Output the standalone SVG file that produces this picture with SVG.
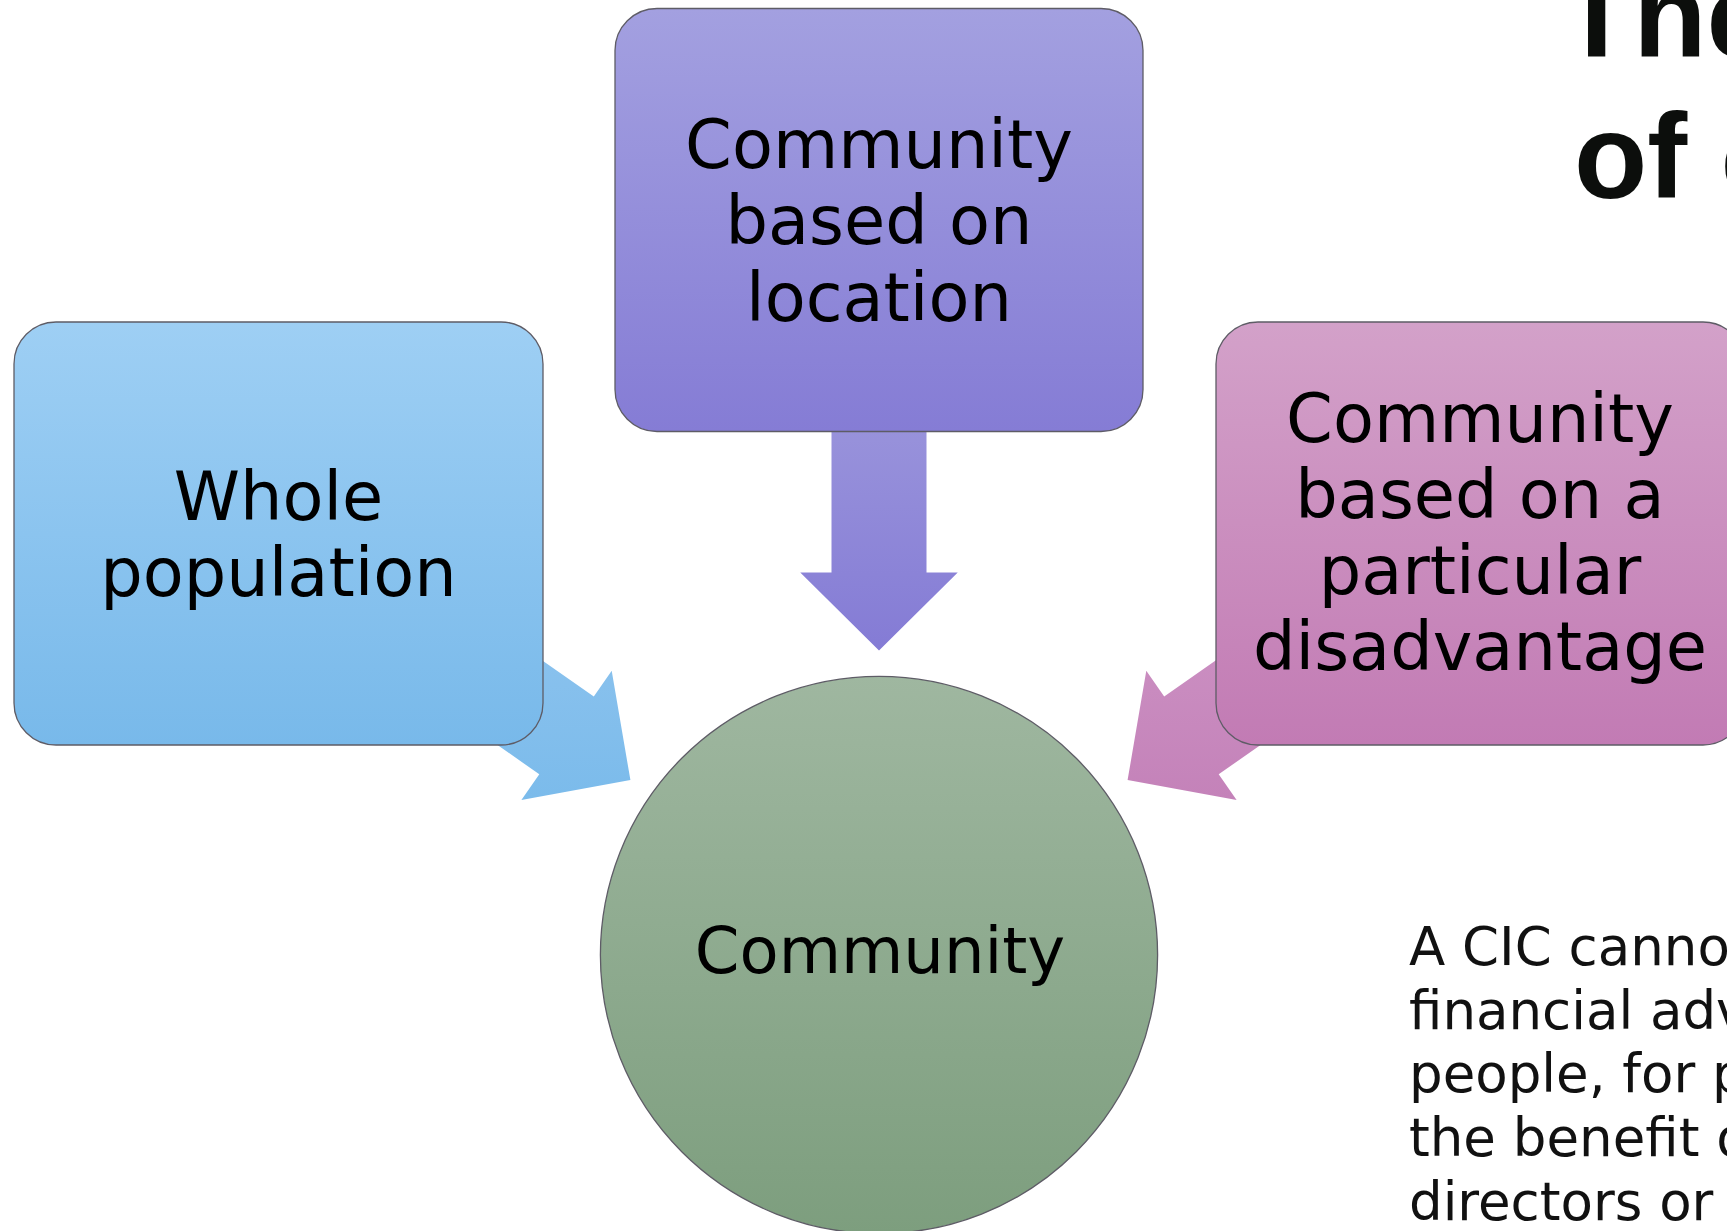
<svg xmlns="http://www.w3.org/2000/svg" width="1727" height="1231" viewBox="0 0 1727 1231">
  <defs>
    <linearGradient id="gBlue" x1="0" y1="0" x2="0" y2="1">
      <stop offset="0" stop-color="#9ECFF4"/>
      <stop offset="1" stop-color="#78B9EA"/>
    </linearGradient>
    <linearGradient id="gPurple" x1="0" y1="0" x2="0" y2="1">
      <stop offset="0" stop-color="#A3A0E0"/>
      <stop offset="1" stop-color="#857CD5"/>
    </linearGradient>
    <linearGradient id="gPink" x1="0" y1="0" x2="0" y2="1">
      <stop offset="0" stop-color="#D3A1C9"/>
      <stop offset="1" stop-color="#C27BB4"/>
    </linearGradient>
    <linearGradient id="gGreen" x1="0" y1="0" x2="0" y2="1">
      <stop offset="0" stop-color="#9FB7A0"/>
      <stop offset="1" stop-color="#7D9E7E"/>
    </linearGradient>
    <linearGradient id="gArrowTop" gradientUnits="userSpaceOnUse" x1="0" y1="430" x2="0" y2="651">
      <stop offset="0" stop-color="#9892DB"/>
      <stop offset="1" stop-color="#847BD5"/>
    </linearGradient>
    <linearGradient id="gArrowLeft" gradientUnits="userSpaceOnUse" x1="0" y1="615" x2="0" y2="800">
      <stop offset="0" stop-color="#8DC3EE"/>
      <stop offset="1" stop-color="#7BBBEB"/>
    </linearGradient>
    <linearGradient id="gArrowRight" gradientUnits="userSpaceOnUse" x1="0" y1="615" x2="0" y2="800">
      <stop offset="0" stop-color="#CC91C3"/>
      <stop offset="1" stop-color="#C482B9"/>
    </linearGradient>
  </defs>
  <style>
    .box { stroke: #5E5C66; stroke-width: 1.3; }
    .label { font-family: "DejaVu Sans", "Liberation Sans", sans-serif; font-size: 67px; fill: #000; text-anchor: middle; }
    .title { font-family: "Liberation Sans", "DejaVu Sans", sans-serif; font-weight: bold; font-size: 120px; fill: #0C0E0C; }
    .body { font-family: "DejaVu Sans", "Liberation Sans", sans-serif; font-size: 53px; fill: #111; }
  </style>

  <rect width="1727" height="1231" fill="#FFFFFF"/>

  <!-- heading, running off the right edge -->
  <g id="title">
    <text class="title" x="1560" y="57">The</text>
    <text class="title" x="1574" y="198">of c</text>
  </g>

  <!-- block arrows pointing into the centre circle -->
  <g id="connectors">
    <polygon fill="url(#gArrowTop)" points="926.5,430.6 926.5,572.6 957.75,572.6 879,650.6 800.25,572.6 831.5,572.6 831.5,430.6"/>
    <polygon fill="url(#gArrowLeft)" points="477.4,615.0 593.8,696.4 611.7,670.8 630.4,780.1 521.4,799.9 539.3,774.3 423.0,692.8"/>
    <polygon fill="url(#gArrowRight)" points="1280.6,615.0 1164.2,696.4 1146.3,670.8 1127.6,780.1 1236.6,799.9 1218.7,774.3 1335.0,692.8"/>
  </g>

  <g id="node-whole-population">
    <rect class="box" x="14" y="322" width="529" height="423" rx="42" ry="42" fill="url(#gBlue)"/>
    <text class="label" x="278.5" y="520">Whole</text>
    <text class="label" x="278.5" y="596">population</text>
  </g>

  <g id="node-location">
    <rect class="box" x="615" y="8.5" width="528" height="423" rx="42" ry="42" fill="url(#gPurple)"/>
    <text class="label" x="879" y="168">Community</text>
    <text class="label" x="879" y="244">based on</text>
    <text class="label" x="879" y="321">location</text>
  </g>

  <g id="node-disadvantage">
    <rect class="box" x="1216" y="322" width="529" height="423" rx="42" ry="42" fill="url(#gPink)"/>
    <text class="label" x="1480" y="442">Community</text>
    <text class="label" x="1480" y="518">based on a</text>
    <text class="label" x="1480" y="594">particular</text>
    <text class="label" x="1480" y="670">disadvantage</text>
  </g>

  <g id="node-community">
    <circle class="box" cx="879" cy="955" r="278.6" fill="url(#gGreen)"/>
    <text class="label" x="880" y="973" style="font-size:64px">Community</text>
  </g>

  <!-- side note, running off the right edge -->
  <g id="note">
    <text class="body" x="1409" y="965">A CIC canno</text>
    <text class="body" x="1409" y="1029">financial adv</text>
    <text class="body" x="1409" y="1092">people, for p</text>
    <text class="body" x="1409" y="1156">the benefit o</text>
    <text class="body" x="1409" y="1220">directors or m</text>
  </g>
</svg>
